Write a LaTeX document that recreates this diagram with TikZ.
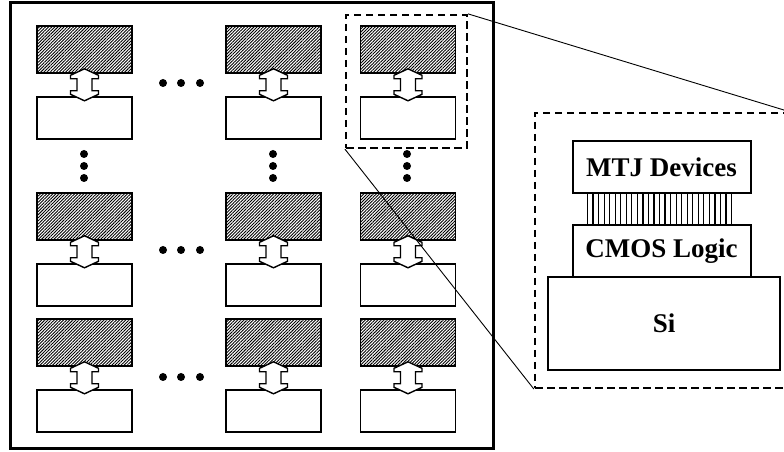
\documentclass[tikz,border=0pt]{standalone}
\usepackage{fontspec}
\setmainfont{Liberation Serif}
\usetikzlibrary{positioning,calc,patterns.meta}

\begin{document}
\begin{tikzpicture}[x=1pt, y=1pt, node distance=22pt, every node/.style={inner sep=0pt},
  rayada/.style={draw, line width=1.8pt, minimum width=95pt, minimum height=47pt, fill=white,
    postaction={pattern={Lines[angle=45, distance=2.2pt, line width=0.9pt]}}},
  caja/.style={draw, line width=1.8pt, minimum width=95pt, minimum height=42pt, fill=white},
  zona/.style={draw, line width=2.2pt, dash pattern=on 7.5pt off 4.5pt},
  capa/.style={draw, line width=2pt, outer sep=0pt, minimum width=178pt, minimum height=52pt,
    font=\bfseries\fontsize{27}{31}\selectfont},
  flechadoble/.pic={\draw[line width=1.4pt, fill=white] (0,16) -- (14,9.5) -- (14,6) -- (7.5,6) -- (7.5,-6) -- (14,-6)
    -- (14,-9.5) -- (0,-16) -- (-14,-9.5) -- (-14,-6) -- (-7.5,-6) -- (-7.5,6) -- (-14,6) -- (-14,9.5) -- cycle;}]
\useasboundingbox (0,0) rectangle (784,452);
\draw[line width=3pt] (10,3) rectangle (493,449);
% matriz de celdas: rayada (MTJ) sobre caja (CMOS)
\foreach \f/\y in {1/427, 2/260, 3/134}
  \foreach \c/\x in {1/84.5, 2/273.5, 3/408} {
    \node[rayada, anchor=north] (h\f\c) at (\x,\y) {};
    \node[caja, below=of h\f\c] (c\f\c) {};
    \pic at ($(h\f\c.south)!0.5!(c\f\c.north)$) {flechadoble};
  }
\foreach \y in {369, 202, 75} \foreach \x in {163, 181, 200} \fill (\x,\y) circle (4pt);
\foreach \x in {84, 273, 407} \foreach \y in {298, 286, 274} \fill (\x,\y) circle (4pt);
% ampliacion
\node[zona, minimum width=121pt, minimum height=133pt] (z1) at (406.5,370.5) {};
\node[zona, minimum width=254pt, minimum height=275pt] (z2) at (662,201.5) {};
\draw[line width=0.9pt] (z1.north east) -- (z2.north east); \draw[line width=0.9pt] (z1.south west) -- (z2.south west);
\node[capa] (m) at (661.5,285) {MTJ Devices};
\node[capa, below=32pt of m] (l) {CMOS Logic};
\node[capa, minimum width=232pt, minimum height=93pt, below=0pt of l, xshift=2.5pt] (s) {Si};
\foreach \i in {0,...,26}
  \draw[line width=1.2pt] ([xshift={(15+5.54*\i)*1pt}]m.south west) -- ([xshift={(15+5.54*\i)*1pt}]l.north west);
\end{tikzpicture}
\end{document}
